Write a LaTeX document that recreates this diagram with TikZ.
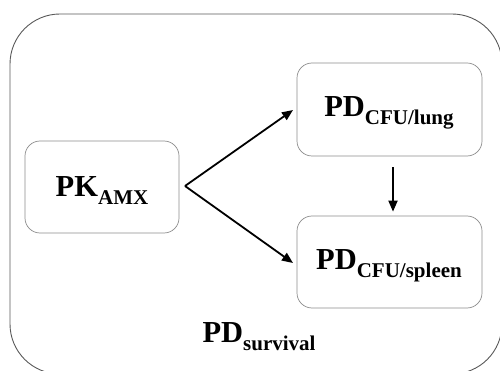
\documentclass[tikz,border=0pt]{standalone}
\usepackage{fontspec}
\setmainfont{Liberation Serif}
\usetikzlibrary{arrows.meta}
\newcommand{\mainlbl}[2]{\fontsize{30.5}{36}\selectfont\bfseries #1\raisebox{-8pt}{\fontsize{21}{25}\selectfont\bfseries #2}}
\begin{document}
\begin{tikzpicture}[x=1pt,y=-1pt,
  inbox/.style={draw=black!45,line width=0.7pt,rounded corners=15pt,minimum width=#1,inner sep=0pt},
  conn/.style={line width=1.8pt,-{Triangle[length=11pt,width=9pt]}}]
\useasboundingbox (0,0) rectangle (500,371);
\begin{scope}
\clip (0,0) rectangle (500,371);
\draw[black!65,line width=0.9pt,rounded corners=50pt] (10,14) rectangle (502,374);
\end{scope}
\node[inbox=154pt,minimum height=92pt] (pk) at (102,187) {};
\node[inbox=185pt,minimum height=93pt] (lung) at (389.5,109.5) {};
\node[inbox=185pt,minimum height=92pt] (spleen) at (389.5,262) {};
\node (pkt) at (102,191) {\mainlbl{PK}{AMX}};
\node (lungt) at (389,113) {\mainlbl{PD}{CFU/lung}};
\node (spleent) at (389,266) {\mainlbl{PD}{CFU/spleen}};
\node (surv) at (259,337) {\mainlbl{PD}{survival}};
\coordinate (fork) at (185,186);
\coordinate (lungin) at (293,110);
\coordinate (spleenin) at (293,263);
\draw[conn] (fork) -- (lungin);
\draw[conn] (fork) -- (spleenin);
\draw[conn] ([shift={(3.5,11)}]lung.south) -- ([shift={(3.5,-4)}]spleen.north);
\end{tikzpicture}
\end{document}
